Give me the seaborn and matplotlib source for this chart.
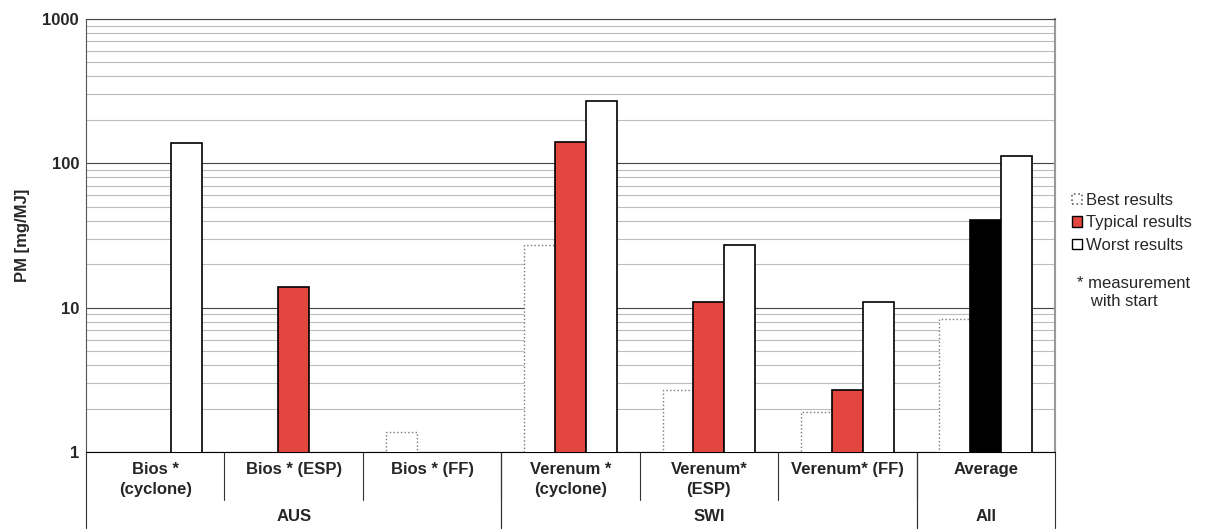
import numpy as np
import pandas as pd
import seaborn as sns
import matplotlib.pyplot as plt
from matplotlib.patches import Patch
import matplotlib.transforms as mtransforms

# chart values (mg/MJ, log axis)
categories = ["Bios *\n(cyclone)", "Bios * (ESP)", "Bios * (FF)",
              "Verenum *\n(cyclone)", "Verenum*\n(ESP)", "Verenum* (FF)", "Average"]
groups = ["AUS", "SWI", "All"]
group_spans = [(0, 2), (3, 5), (6, 6)]
results = ["Best results", "Typical results", "Worst results"]
best = [np.nan, np.nan, 1.38, 27, 2.7, 1.9, 8.3]
typical = [np.nan, 14, np.nan, 140, 11, 2.7, 40.5]
worst = [138, np.nan, np.nan, 272, 27, 11, 113]

sns.set_style("white")
plt.rcParams["font.family"] = ["Liberation Sans", "DejaVu Sans"]

rows = []
for lvl, vals in zip(results, [best, typical, worst]):
    for cat, v in zip(categories, vals):
        rows.append({"category": cat, "result": lvl, "value": v})
df = pd.DataFrame(rows).dropna()

red = "#E2463F"
fig = plt.figure(figsize=(12.1, 5.3), dpi=100)
ax = fig.add_axes([86 / 1210, 1 - 452 / 530, (1055 - 86) / 1210, (452 - 19) / 530])

sns.barplot(data=df, x="category", y="value", hue="result", order=categories,
            hue_order=results, width=0.67, gap=0, legend=False, ax=ax, zorder=3)
ax.set_yscale("log")

for i, cont in enumerate(ax.containers):
    for p in cont.patches:
        idx = int(round(p.get_x() + p.get_width() / 2))
        if i == 0:
            p.set_facecolor("white")
            p.set_edgecolor("#777777")
            p.set_linestyle(":")
            p.set_linewidth(1.0)
        elif i == 1:
            p.set_facecolor("black" if categories[idx] == "Average" else red)
            p.set_edgecolor("black")
            p.set_linewidth(1.2)
        else:
            p.set_facecolor("white")
            p.set_edgecolor("black")
            p.set_linewidth(1.2)

ax.set_ylim(1, 1000)
ax.set_xlim(-0.5, len(categories) - 0.5)
ax.set_axisbelow(True)
ax.grid(which="major", axis="y", color="#444444", linewidth=0.8)
ax.grid(which="minor", axis="y", color="#bdbdbd", linewidth=0.8)
ax.set_yticks([1, 10, 100, 1000])
ax.set_yticklabels(["1", "10", "100", "1000"], fontsize=12, fontweight="bold")
ax.tick_params(axis="y", which="major", length=3, color="#444444", pad=2)
ax.tick_params(axis="y", which="minor", length=0)
ax.set_xticks([])
ax.set_xlabel("")
ax.set_ylabel("PM [mg/MJ]", fontsize=12, fontweight="bold", labelpad=9)

ax.spines["left"].set_color("#555555")
ax.spines["bottom"].set_color("black")
ax.spines["top"].set_color("#444444")
ax.spines["top"].set_linewidth(0.8)
ax.spines["right"].set_color("#999999")
ax.spines["right"].set_linewidth(1.5)

# category / group table below the axis
trans = mtransforms.blended_transform_factory(ax.transData, ax.transAxes)
for i, cat in enumerate(categories):
    ax.text(i, -0.024, cat, transform=trans, ha="center", va="top",
            fontsize=12, fontweight="bold", linespacing=1.35)
for k in range(1, len(categories)):
    ax.plot([k - 0.5, k - 0.5], [0, -0.111], transform=trans, color="#333333",
            linewidth=0.8, clip_on=False)
for g, (a, b) in zip(groups, group_spans):
    ax.text((a + b) / 2, -0.148, g, transform=trans, ha="center", va="center",
            fontsize=12, fontweight="bold")
    for xe in (a - 0.5, b + 0.5):
        ax.plot([xe, xe], [0, -0.176], transform=trans, color="#333333",
                linewidth=0.8, clip_on=False)

handles = [
    Patch(facecolor="white", edgecolor="#666666", linestyle=":", linewidth=1.2),
    Patch(facecolor=red, edgecolor="black", linewidth=1.0),
    Patch(facecolor="white", edgecolor="black", linewidth=1.0),
]
fig.legend(handles, results, loc="upper left", bbox_to_anchor=(1072 / 1210, 1 - 193 / 530),
           frameon=False, fontsize=12, handlelength=0.6, handleheight=0.6,
           handletextpad=0.25, labelspacing=0.45, borderaxespad=0, borderpad=0)
fig.text(1077 / 1210, 1 - 292 / 530, "* measurement\n   with start", fontsize=12,
         va="center", ha="left", linespacing=1.25)

fig.savefig("out.png", dpi=100)
